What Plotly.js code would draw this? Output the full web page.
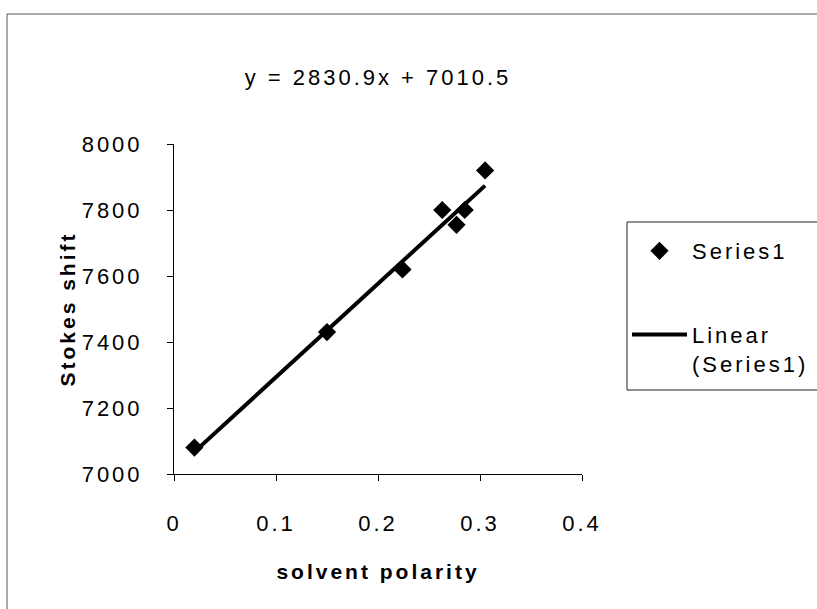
<!DOCTYPE html>
<html>
<head>
<meta charset="utf-8">
<script src="https://cdn.plot.ly/plotly-3.0.1.min.js"></script>
<style>
  html, body { margin: 0; padding: 0; background: #fff; }
  #chart { width: 817px; height: 609px; }
  #chart text { letter-spacing: 3px; }
  #chart .legend .scrollbox, #chart .legend [clip-path] { clip-path: none !important; }
</style>
</head>
<body>
<div id="chart"></div>
<script>
// Data
const solventPolarity = [0.02, 0.15, 0.224, 0.263, 0.285, 0.277, 0.305];
const stokesShift = [7080, 7430, 7620, 7800, 7800, 7755, 7920];
// Trendline coefficients as printed on the chart
const trendSlope = 2830.9;
const trendIntercept = 7010.5;
const xTickVals = [0, 0.1, 0.2, 0.3, 0.4];
const xTickText = ['0', '0.1', '0.2', '0.3', '0.4'];
const yTickVals = [7000, 7200, 7400, 7600, 7800, 8000];

const xMin = Math.min(...solventPolarity);
const xMax = Math.max(...solventPolarity);
const trendX = [xMin, xMax];
const trendY = trendX.map(v => trendSlope * v + trendIntercept);

const FONT = '"Liberation Sans", Arial, sans-serif';

const traces = [
  {
    x: solventPolarity, y: stokesShift,
    type: 'scatter', mode: 'markers', name: 'Series1',
    legendgroup: 'a',
    marker: { symbol: 'diamond', size: 14, color: '#000' }
  },
  {
    x: trendX, y: trendY,
    type: 'scatter', mode: 'lines', name: 'Linear<br>(Series1)',
    legendgroup: 'b',
    line: { color: '#000', width: 4 }
  }
];

const layout = {
  width: 817, height: 609,
  paper_bgcolor: '#fff', plot_bgcolor: '#fff',
  margin: { l: 174, r: 235, t: 144, b: 135, autoexpand: false },
  font: { family: FONT, color: '#000', size: 22 },
  title: {
    text: 'y = 2830.9x + 7010.5',
    xref: 'paper', x: 0.5, xanchor: 'center',
    yref: 'container', y: 1 - 77 / 609, yanchor: 'middle',
    font: { family: FONT, size: 22, color: '#000' }
  },
  xaxis: {
    range: [0, 0.4], tickvals: xTickVals, ticktext: xTickText,
    showline: true, linecolor: '#000', linewidth: 1,
    ticks: 'outside', ticklen: 6, tickcolor: '#000',
    showgrid: false, zeroline: false,
    ticklabelstandoff: 24,
    tickfont: { family: FONT, size: 22, color: '#000' },
    title: { text: '<b>solvent polarity</b>', standoff: 28,
             font: { family: FONT, size: 21, color: '#000' } }
  },
  yaxis: {
    range: [7000, 8000], tickvals: yTickVals,
    showline: true, linecolor: '#000', linewidth: 1,
    ticks: 'outside', ticklen: 6, tickcolor: '#000',
    showgrid: false, zeroline: false,
    ticklabelstandoff: 20,
    tickfont: { family: FONT, size: 22, color: '#000' },
    title: { text: '<b>Stokes shift</b>', standoff: 12,
             font: { family: FONT, size: 21, color: '#000' } }
  },
  showlegend: true,
  legend: {
    x: (627 - 174) / 408, xanchor: 'left',
    y: (474 - 230) / 330, yanchor: 'top',
    borderwidth: 0,
    bgcolor: 'rgba(255,255,255,0)',
    traceorder: 'grouped', tracegroupgap: 52,
    valign: 'top', itemwidth: 55,
    font: { family: FONT, size: 22, color: '#000' }
  },
  shapes: [
    {
      // outer chart frame
      type: 'rect', xref: 'paper', yref: 'paper',
      x0: (7 - 174) / 408, x1: (830 - 174) / 408,
      y0: (474 - 640) / 330, y1: (474 - 14) / 330,
      line: { color: '#555', width: 1 }, fillcolor: 'rgba(0,0,0,0)'
    },
    {
      // legend box (right side runs off the picture)
      type: 'rect', xref: 'paper', yref: 'paper',
      x0: (627 - 174) / 408, x1: (840 - 174) / 408,
      y0: (474 - 390) / 330, y1: (474 - 222) / 330,
      line: { color: '#222', width: 1 }, fillcolor: 'rgba(0,0,0,0)'
    }
  ]
};

Plotly.newPlot('chart', traces, layout, { displayModeBar: false, staticPlot: true });
</script>
</body>
</html>
